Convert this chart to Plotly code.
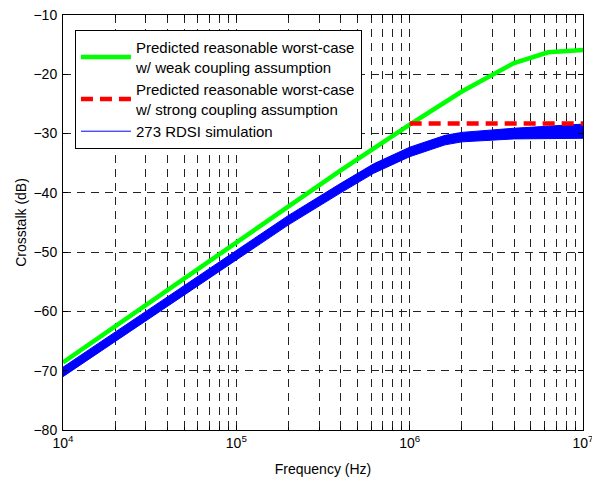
import plotly.graph_objects as go

# ---- data ----
freq_green = [1e4, 1e5, 4e5, 1e6, 1.5e6, 2e6, 4e6, 6.3e6, 1e7]
xt_green = [-68.6, -48.4, -36.2, -28.5, -25.2, -22.9, -18.1, -16.3, -15.9]

freq_red = [1e6, 1e7]
xt_red = [-28.3, -28.3]

freq_blue = [1e4, 1e5, 2e5, 4e5, 6.2e5, 1e6, 1.6e6, 2e6, 4e6, 1e7]
xt_blue_hi = [-69.4, -49.8, -43.8, -38.4, -35.1, -32.3, -30.3, -29.8, -29.1, -28.4]
xt_blue_lo = [-71.0, -51.4, -45.4, -40.0, -36.7, -33.9, -31.9, -31.4, -30.9, -30.8]

x_tickvals = [1e4, 1e5, 1e6, 1e7]
x_ticktext = ["10<sup>4</sup>", "10<sup>5</sup>", "10<sup>6</sup>", "10<sup>7</sup>"]
x_minor_mantissas = [2, 3, 4, 5, 6, 7, 8, 9]
x_minor_decades = [1e4, 1e5, 1e6]
y_tickvals = [-80, -70, -60, -50, -40, -30, -20, -10]

name_green = "Predicted reasonable worst-case<br>w/ weak coupling assumption"
name_red = "Predicted reasonable worst-case<br>w/ strong coupling assumption"
name_blue = "273 RDSI simulation"

FONT = "Liberation Sans, Arial, sans-serif"

x_minor_vals = [m * d for d in x_minor_decades for m in x_minor_mantissas]

fig = go.Figure()

# blue band (simulations envelope)
fig.add_trace(go.Scatter(x=freq_blue, y=xt_blue_lo, mode="lines",
                         line=dict(color="#0000ff", width=1), showlegend=False,
                         hoverinfo="skip"))
fig.add_trace(go.Scatter(x=freq_blue, y=xt_blue_hi, mode="lines", fill="tonexty",
                         fillcolor="#0000ff",
                         line=dict(color="#0000ff", width=1), showlegend=False,
                         hoverinfo="skip"))

fig.add_trace(go.Scatter(x=freq_green, y=xt_green, mode="lines", name=name_green,
                         line=dict(color="#00ff00", width=4.5)))
fig.add_trace(go.Scatter(x=freq_red, y=xt_red, mode="lines", name=name_red,
                         line=dict(color="#ff0000", width=4.5, dash="12px,7px")))
# legend entry for the simulations
fig.add_trace(go.Scatter(x=[None], y=[None], mode="lines", name=name_blue,
                         line=dict(color="#0000ff", width=1)))

grid_common = dict(showgrid=True, gridcolor="#222", gridwidth=1, griddash="8px,6px",
                   showline=True, linecolor="black", linewidth=1, mirror="allticks",
                   ticks="inside", tickcolor="black", zeroline=False,
                   ticklabeloverflow="allow", automargin=False,
                   tickfont=dict(family=FONT, size=14, color="black"))

fig.update_xaxes(type="log", range=[4, 7], tickmode="array",
                 tickvals=x_tickvals, ticktext=x_ticktext,
                 ticklen=5,
                 minor=dict(tickmode="array", tickvals=x_minor_vals,
                            ticks="inside", ticklen=3, tickcolor="black", showgrid=True,
                            gridcolor="#222", gridwidth=1, griddash="8px,6px"),
                 title=dict(text="Frequency (Hz)", font=dict(family=FONT, size=14, color="black"),
                            standoff=14),
                 **grid_common)
fig.update_yaxes(range=[-80, -10], tickmode="array", tickvals=y_tickvals, ticklen=5,
                 ticklabelstandoff=2,
                 title=dict(text="Crosstalk (dB)", font=dict(family=FONT, size=14, color="black"),
                            standoff=3),
                 **grid_common)

fig.update_layout(
    width=592, height=477,
    margin=dict(l=63, r=9, t=15, b=47),
    paper_bgcolor="white", plot_bgcolor="white",
    font=dict(family=FONT, size=14, color="black"),
    legend=dict(x=0.023, y=0.964, xanchor="left", yanchor="top",
                bgcolor="white", bordercolor="black", borderwidth=1,
                font=dict(family=FONT, size=15, color="black"),
                traceorder="normal", tracegroupgap=0, itemwidth=50),
    showlegend=True,
)

fig.write_html("out.html")
